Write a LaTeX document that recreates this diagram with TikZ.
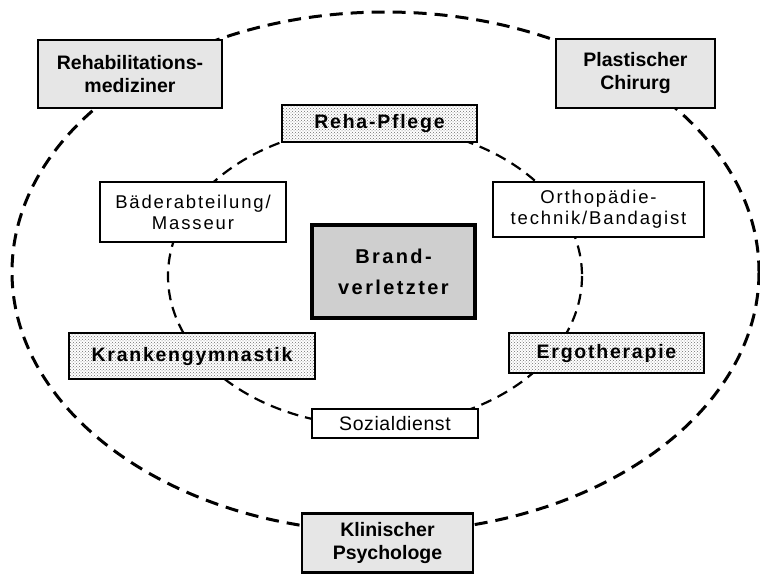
\documentclass[tikz,border=0pt]{standalone}
\usepackage{fontspec}
\setmainfont{Liberation Sans}
\usetikzlibrary{patterns}
\definecolor{pgray}{HTML}{E6E6E6}
\definecolor{cgray}{HTML}{CFCFCF}
\definecolor{dgray}{HTML}{707070}
\newcommand{\spc}[1]{\addfontfeature{LetterSpace=#1}}

\begin{document}
\begin{tikzpicture}[x=1pt, y=-1pt,
  profbox/.style={draw, line width=2.8pt, fill=pgray, inner sep=0pt, align=center,
    font=\bfseries\fontsize{19.5}{23}\selectfont},
  dotbox/.style={draw, line width=1.5pt, inner sep=0pt, align=center,
    preaction={fill=white}, pattern=crosshatch dots, pattern color=dgray,
    font=\bfseries\fontsize{19.5}{23}\selectfont\spc{9}},
  plainbox/.style={draw, line width=1.2pt, fill=white, inner sep=0pt, align=center,
    font=\fontsize{18.5}{21}\selectfont\spc{10}},
  centerbox/.style={draw, line width=3.5pt, fill=cgray, inner sep=0pt, align=center,
    font=\bfseries\fontsize{20}{31}\selectfont\spc{12}}]
 \useasboundingbox (0,0) rectangle (760,575);
 % ring of the team and inner ring of the therapies
 \draw[line width=3pt, dash pattern=on 13pt off 8pt] (385.5,272) ellipse [x radius=373.5, y radius=260];
 \draw[line width=2.2pt, dash pattern=on 11pt off 7pt] (375,276) ellipse [x radius=207, y radius=150];
 % outer ring
 \node[profbox, minimum width=184, minimum height=68] (reham) at (130,74) {Rehabilitations-\\mediziner};
 \node[profbox, minimum width=159, minimum height=69] (plast) at (635.5,73.5) {Plastischer\\Chirurg};
 \node[profbox, minimum width=171, minimum height=59] (klin) at (387.5,543) {Klinischer\\Psychologe};
 % inner ring
 \node[dotbox, minimum width=195, minimum height=37] (pflege) at (379.5,123.5) {Reha-Pflege};
 \node[dotbox, minimum width=246, minimum height=46] (kgym) at (192,356) {Krankengymnastik};
 \node[dotbox, minimum width=195, minimum height=40] (ergo) at (606.5,353) {Ergotherapie};
 \node[plainbox, minimum width=186, minimum height=60] (baeder) at (193,212) {Bäderabteilung/\\Masseur};
 \node[plainbox, minimum width=211, minimum height=55] (ortho) at (598.5,209.5) {Orthopädie-\\technik/Bandagist};
 \node[plainbox, minimum width=166, minimum height=29, font=\fontsize{19.5}{21}\selectfont\spc{3}] (sozial) at (395,423.5) {Sozialdienst};
 % patient
 \node[centerbox, minimum width=163, minimum height=93] (brand) at (393.5,271.5) {Brand-\\verletzter};
\end{tikzpicture}
\end{document}
